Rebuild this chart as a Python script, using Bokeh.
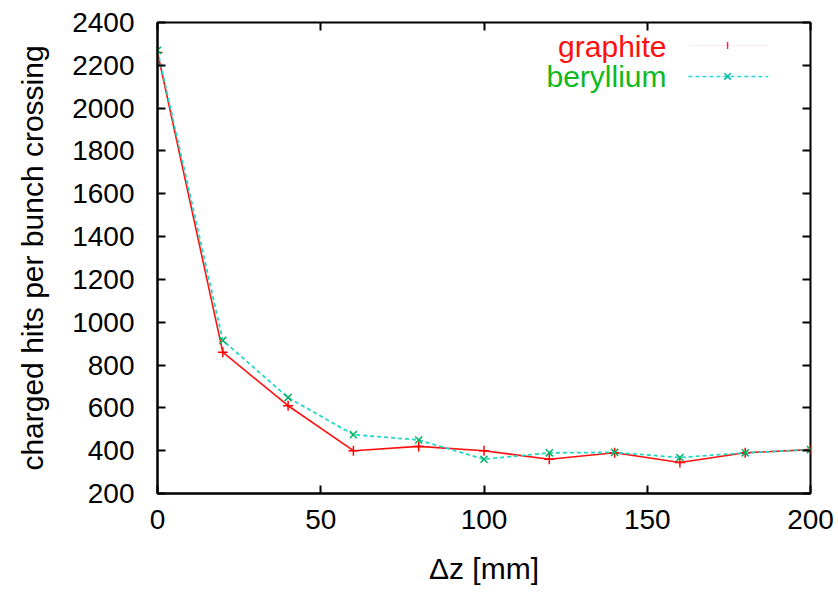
from bokeh.plotting import figure
from bokeh.models import LinearAxis, Range1d, FixedTicker, Label
from bokeh.embed import file_html
from bokeh.resources import INLINE

dz = [0, 20, 40, 60, 80, 100, 120, 140, 160, 180, 200]
graphite = [2260, 860, 610, 400, 420, 400, 360, 390, 345, 390, 405]
beryllium = [2270, 915, 648, 475, 450, 360, 390, 392, 368, 390, 405]
x_ticks = [0, 50, 100, 150, 200]
y_ticks = [200, 400, 600, 800, 1000, 1200, 1400, 1600, 1800, 2000, 2200, 2400]

FONT = "Liberation Sans"
p = figure(width=838, height=592, output_backend="svg", toolbar_location=None,
           x_range=Range1d(0, 200), y_range=Range1d(200, 2400),
           min_border_left=157, min_border_right=28, min_border_top=22, min_border_bottom=99)
p.outline_line_color = "black"
p.outline_line_width = 2
p.xgrid.visible = False
p.ygrid.visible = False
p.background_fill_color = "white"
p.border_fill_color = "white"

def style(ax, ticks, labels=True):
    ax.ticker = FixedTicker(ticks=ticks)
    ax.axis_line_color = "black"
    ax.axis_line_width = 2
    ax.major_tick_in = 8
    ax.major_tick_out = 0
    ax.major_tick_line_width = 2
    ax.minor_tick_line_color = None
    ax.major_label_text_font = FONT
    ax.major_label_text_font_size = "28px"
    ax.major_label_text_color = "black"
    if not labels:
        ax.major_label_text_color = None
        ax.major_label_text_font_size = "1px"
        ax.axis_line_color = None

style(p.xaxis[0], x_ticks)
style(p.yaxis[0], y_ticks)
p.xaxis[0].major_label_standoff = 16
p.yaxis[0].major_label_standoff = 23
p.xaxis[0].axis_label = "\u0394z [mm]"
p.yaxis[0].axis_label = "charged hits per bunch crossing"
for ax in (p.xaxis[0], p.yaxis[0]):
    ax.axis_label_text_font = FONT
    ax.axis_label_text_font_size = "30px"
    ax.axis_label_text_font_style = "normal"
    ax.axis_label_text_color = "black"
p.xaxis[0].axis_label_standoff = 20
p.yaxis[0].axis_label_standoff = 20

top = LinearAxis()
style(top, x_ticks, labels=False)
p.add_layout(top, "above")
right = LinearAxis()
style(right, y_ticks, labels=False)
p.add_layout(right, "right")

# data
p.line(dz, graphite, line_color="#ff1010", line_width=1.6)
p.scatter(dz, graphite, marker="cross", size=10, line_color="#ff0000", line_width=1.5)
p.line(dz, beryllium, line_color="#20d8c8", line_width=1.8, line_dash="4 3")
p.scatter(dz, beryllium, marker="x", size=10, line_color="#00b060", line_width=1.5)

# legend (gnuplot style: label then sample)
p.add_layout(Label(x=509, y=447, x_units="screen", y_units="screen",
                   text="graphite", text_align="right", text_baseline="alphabetic",
                   text_font=FONT, text_font_size="30px", text_color="#ff1010"))
p.add_layout(Label(x=509, y=417, x_units="screen", y_units="screen",
                   text="beryllium", text_align="right", text_baseline="alphabetic",
                   text_font=FONT, text_font_size="30px", text_color="#10b820"))
p.line([162.6, 187.1], [2293, 2293], line_color="#ff9090", line_width=1, line_alpha=0.2)
p.scatter([174.6], [2293], marker="dash", angle=1.5708, size=7, line_color="#ff2060", line_width=1.5)
p.line([162.6, 187.1], [2148, 2148], line_color="#20d8e0", line_width=1.5, line_dash="4 3")
p.scatter([174.6], [2148], marker="x", size=9, line_color="#00b8a0", line_width=1.5)

open("out.html", "w").write(file_html(p, INLINE))
